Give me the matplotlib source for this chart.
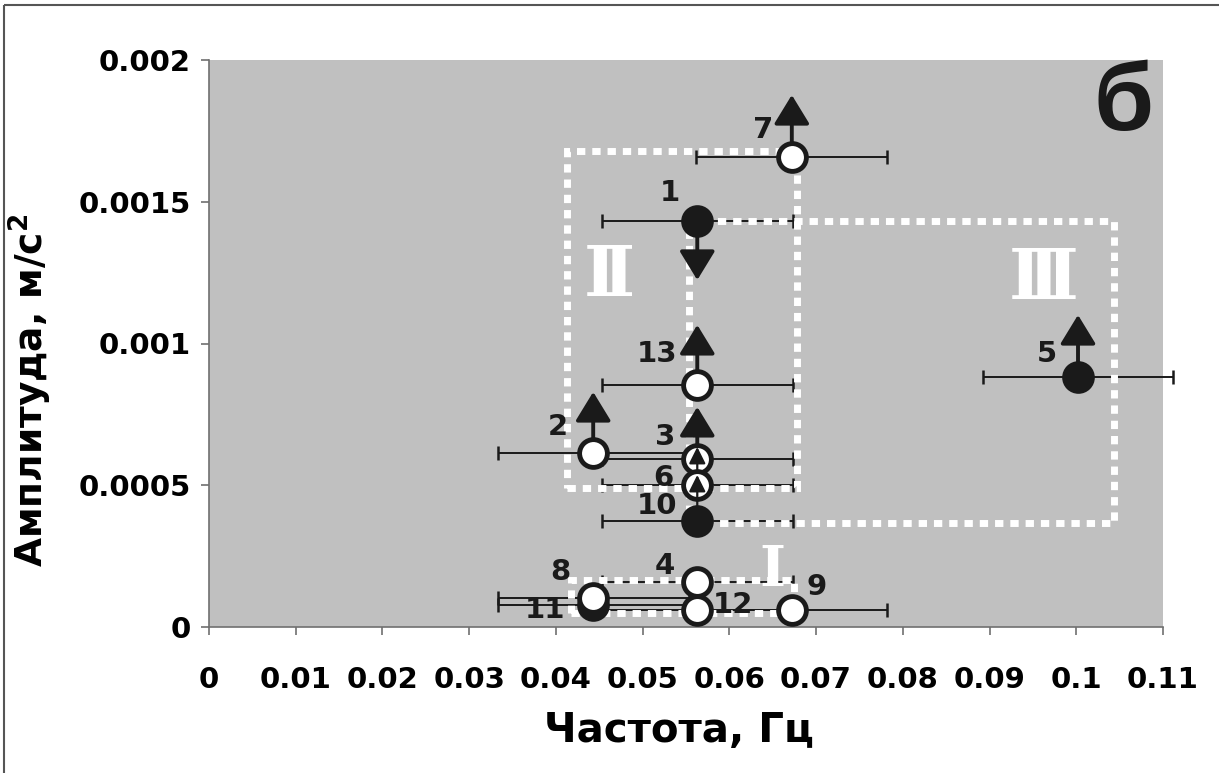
import matplotlib
matplotlib.use("Agg")
import matplotlib.pyplot as plt
from matplotlib.patches import Rectangle
from matplotlib.text import OffsetFrom
from matplotlib.lines import Line2D

plt.rcParams['font.family'] = ['DejaVu Sans']
plt.rcParams['mathtext.default'] = 'bf'

# ---- data ----
point_ids = ['1', '2', '3', '4', '5', '6', '7', '11', '8', '9', '10', '12', '13']
freq = [0.0563, 0.0443, 0.0563, 0.0563, 0.1002, 0.0563, 0.0672,
        0.0443, 0.0443, 0.0672, 0.0563, 0.0563, 0.0563]
amp = [0.001432, 0.000614, 0.000593, 0.000159, 0.000882, 0.000501, 0.001658,
       0.0000776, 0.0001023, 0.0000600, 0.000374, 0.0000600, 0.000854]
freq_err = [0.011] * 13
filled = [True, False, False, False, True, False, False,
          True, False, False, True, False, False]
# +1 = value is a lower bound (arrow up), -1 = upper bound, 0 = none
bound = [-1, 1, 1, 0, 1, 1, 1, 0, 0, 0, 1, 0, 1]

region_names = ['Ⅰ', 'Ⅱ', 'Ⅲ']
region_x0 = [0.0417, 0.0413, 0.0553]
region_x1 = [0.0674, 0.0678, 0.1043]
region_y0 = [0.0000494, 0.000492, 0.000367]
region_y1 = [0.000166, 0.001679, 0.001432]
region_label_x = [0.0650, 0.0462, 0.0963]
region_label_y = [0.000200, 0.001238, 0.001224]

xticks = [0, 0.01, 0.02, 0.03, 0.04, 0.05, 0.06, 0.07, 0.08, 0.09, 0.1, 0.11]
xtick_labels = ['0', '0.01', '0.02', '0.03', '0.04', '0.05', '0.06',
                '0.07', '0.08', '0.09', '0.1', '0.11']
yticks = [0, 0.0005, 0.001, 0.0015, 0.002]
ytick_labels = ['0', '0.0005', '0.001', '0.0015', '0.002']

# ---- styling (pixel offsets etc.) ----
arrow_len = [59, 61, 52, 0, 62, 38, 62, 0, 0, 0, 46, 0, 60]
arrow_small = [False, False, False, False, False, True, False,
               False, False, False, True, False, False]
label_dx = [-27, -35, -32, -32, -31, -34, -29, -48, -33, 25, -40, 36, -40]
label_dy = [-28, -26, -22, -16, -23, -7, -27, 5, -26, -23, -15, -5, -31]
region_size = [40, 50, 50]

ink = '#1a1a1a'

fig = plt.figure(figsize=(12.19, 7.73), dpi=100)
ax = fig.add_axes([209 / 1219, 1 - 627 / 773, (1163 - 209) / 1219, (627 - 60) / 773])
ax.set_facecolor('#c0c0c0')
ax.set_xlim(0, 0.11)
ax.set_ylim(0, 0.002)

# figure frame (top and left edges visible)
fig.add_artist(Line2D([4 / 1219, 4 / 1219], [0, 1 - 5 / 773], color='#555555',
                      lw=1.5, solid_capstyle='butt'))
fig.add_artist(Line2D([4 / 1219, 1.01], [1 - 5 / 773, 1 - 5 / 773], color='#555555',
                      lw=1.5, solid_capstyle='butt'))

# error bars
eb = ax.errorbar(freq, amp, xerr=freq_err, fmt='none', ecolor=ink,
                 elinewidth=1.4, capsize=4.7, capthick=1.8, zorder=2)
for art in list(eb.lines[1]) + list(eb.lines[2]):
    art.set_clip_on(False)

# dotted regions
for x0, x1, y0, y1 in zip(region_x0, region_x1, region_y0, region_y1):
    ax.add_patch(Rectangle((x0, y0), x1 - x0, y1 - y0, fill=False, ec='white',
                           lw=5, ls=(0, (1.2, 1.0)), zorder=3))
for name, lx, ly, fs in zip(region_names, region_label_x, region_label_y, region_size):
    ax.text(lx, ly, name, color='white', fontsize=fs, ha='center', va='center',
            fontweight='bold', family=['DejaVu Serif', 'Noto Sans CJK JP'], zorder=3)

# points, arrows and numbers
for i in range(len(point_ids)):
    z = 10 + 2 * i
    if bound[i] != 0:
        if arrow_small[i]:
            style, lw = '-|>,head_length=10,head_width=5', 1.6
        else:
            style, lw = '-|>,head_length=18,head_width=11', 2.8
        ref = OffsetFrom(ax.transData, (freq[i], amp[i]), unit='pixels')
        ax.annotate('', xy=(0, bound[i] * arrow_len[i]), xycoords=ref,
                    xytext=(0, 0), textcoords=ref,
                    arrowprops=dict(arrowstyle=style, mutation_scale=1, lw=lw,
                                    color=ink, shrinkA=0, shrinkB=0),
                    zorder=z)
    ax.plot(freq[i], amp[i], 'o', ms=20, mew=3.5, mec=ink,
            mfc=ink if filled[i] else 'white', zorder=z + 1, clip_on=False)
    ax.annotate(point_ids[i], xy=(freq[i], amp[i]),
                xytext=(label_dx[i], -label_dy[i]), textcoords='offset pixels',
                ha='center', va='center', fontsize=21, fontweight='bold',
                color=ink, zorder=z + 1)

ax.text(0.1055, 0.00184, 'б', fontsize=70, fontweight='bold', color=ink,
        family=['Liberation Sans'], ha='center', va='center')

# axes styling
for s in ['top', 'right']:
    ax.spines[s].set_visible(False)
for s in ['left', 'bottom']:
    ax.spines[s].set_color('#707070')
    ax.spines[s].set_linewidth(1.2)
ax.set_xticks(xticks)
ax.set_xticklabels(xtick_labels)
ax.set_yticks(yticks)
ax.set_yticklabels(ytick_labels)
ax.tick_params(axis='both', direction='out', length=6, width=1.2, color='#707070',
               labelsize=21, labelcolor='black')
ax.tick_params(axis='x', pad=22)
ax.tick_params(axis='y', pad=7)
for lab in ax.get_xticklabels() + ax.get_yticklabels():
    lab.set_fontweight('bold')

ax.set_xlabel('Частота, Гц', fontsize=29, fontweight='bold')
ax.set_ylabel('Амплитуда, м/с$^2$', fontsize=27, fontweight='bold')
ax.xaxis.set_label_coords(0.4927, -0.148)
ax.yaxis.set_label_coords(-0.162, 0.418)

fig.savefig('out.png', dpi=100)
